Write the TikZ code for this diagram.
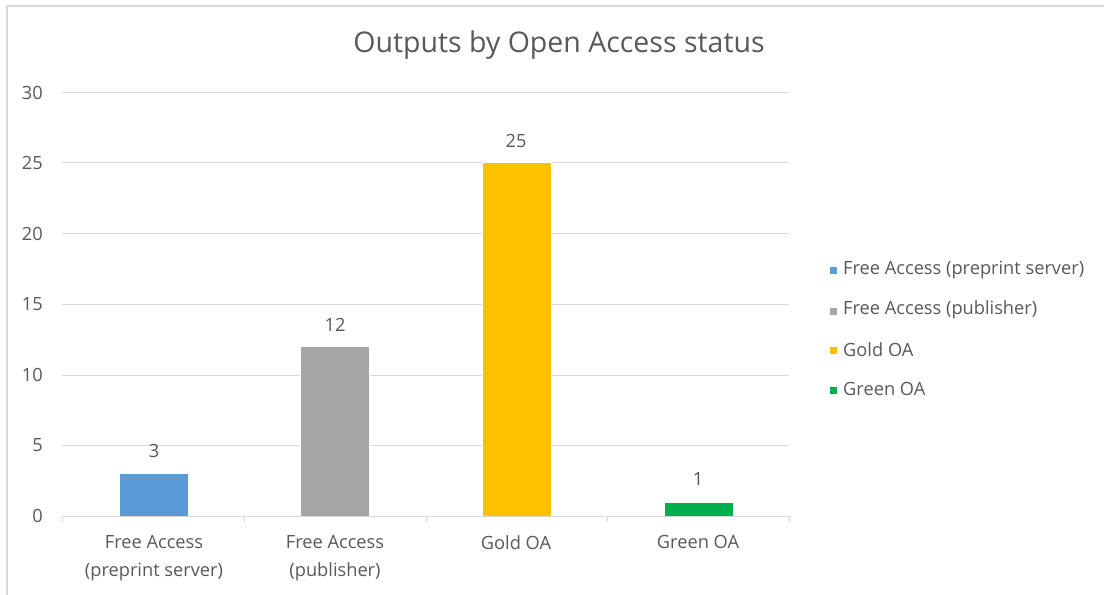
\documentclass[tikz,border=0pt]{standalone}
\usepackage{fontspec}
\setmainfont{Open Sans}
\definecolor{txt}{HTML}{595959}
\definecolor{grid}{HTML}{D9D9D9}
\definecolor{cblue}{HTML}{5B9BD5}
\definecolor{cgray}{HTML}{A5A5A5}
\definecolor{cgold}{HTML}{FFC000}
\definecolor{cgreen}{HTML}{00B050}
\begin{document}
\begin{tikzpicture}[x=1bp,y=-1bp,
  lbl/.style={text=txt,font=\fontsize{18.3}{28}\selectfont,inner sep=0pt},
  ylbl/.style={lbl,anchor=east},
  bar/.style={draw=white,line width=1bp},
  gridline/.style={draw=grid,line width=1bp},
  legsq/.style={minimum size=7bp,inner sep=0pt}]
\useasboundingbox (0,0) rectangle (1104,595);
\fill[white] (0,0) rectangle (1104,595);
% chart border
\draw[grid,line width=1.2bp] (7,595) -- (7,6) -- (1104,6);
% title
\node[text=txt,font=\fontsize{28.6}{32}\selectfont,inner sep=0pt] (title) at (559,45) {Outputs by Open Access status};
% gridlines and y labels
\foreach \v/\y in {5/445.5,10/375,15/304,20/233.5,25/163,30/92.5}{
  \draw[gridline] (62,\y) -- (789,\y);
  \node[ylbl] (y\v) at (43,\y) {\v};
}
\node[ylbl] (y0) at (43,516) {0};
% bars
\fill[cblue,bar] (119.5,473.5) rectangle (188.5,516) ;
\fill[cgray,bar] (300.5,346) rectangle (369.5,516);
\fill[cgold,bar] (482,162.5) rectangle (551,516);
\fill[cgreen,bar] (664,502) rectangle (733,516);
% axis
\draw[gridline] (62,516) -- (789,516);
\foreach \x in {62,244,426,607,789}{\draw[gridline] (\x,516) -- (\x,522);}
% data labels
\node[lbl] (d1) at (154,451) {3};
\node[lbl] (d2) at (335,325) {12};
\node[lbl] (d3) at (516,141) {25};
\node[lbl] (d4) at (698,479) {1};
% category labels
\node[lbl,align=center,anchor=north] (c1) at (154,535.5) {Free Access\\(preprint server)};
\node[lbl,align=center,anchor=north] (c2) at (335,535.5) {Free Access\\(publisher)};
\node[lbl,anchor=north] (c3) at (516,535.5) {Gold OA};
\node[lbl,anchor=north] (c4) at (698,535.5) {Green OA};
% legend
\node[legsq,fill=cblue] (s1) at (833,271) {};
\node[legsq,fill=cgray] (s2) at (833,311) {};
\node[legsq,fill=cgold] (s3) at (833,350.5) {};
\node[legsq,fill=cgreen] (s4) at (833,390) {};
\node[lbl,anchor=west] (l1) at (843,270) {Free Access (preprint server)};
\node[lbl,anchor=west] (l2) at (843,310) {Free Access (publisher)};
\node[lbl,anchor=west] (l3) at (843,350) {Gold OA};
\node[lbl,anchor=west] (l4) at (843,389) {Green OA};
\end{tikzpicture}
\end{document}
